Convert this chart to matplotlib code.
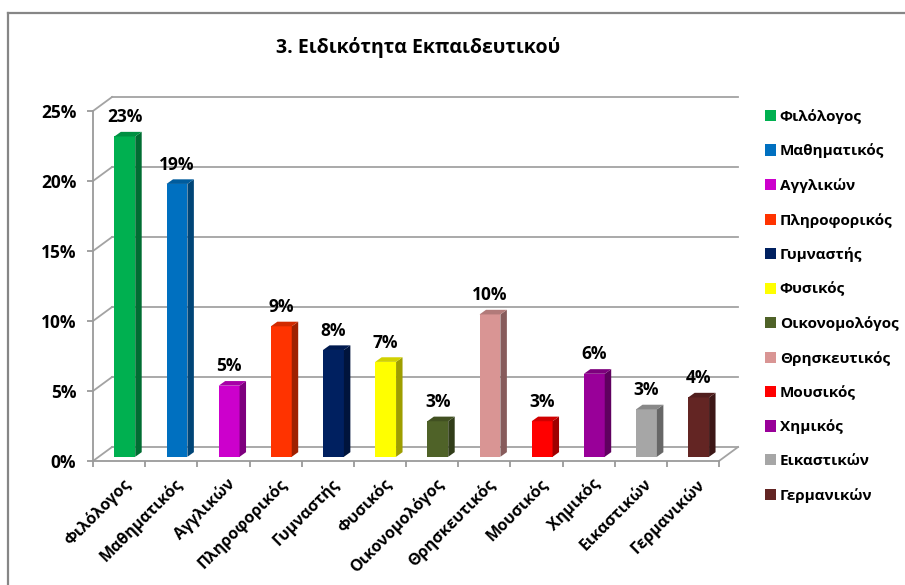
import matplotlib
matplotlib.use("Agg")
import matplotlib.pyplot as plt
import numpy as np
from matplotlib.patches import Polygon, Patch
from matplotlib.lines import Line2D
from matplotlib.colors import to_rgb
from matplotlib.transforms import ScaledTranslation

plt.rcParams['font.family'] = ['Open Sans', 'DejaVu Sans']
plt.rcParams['font.weight'] = 'bold'

# share of teachers per specialty (%)
specialties = ["Φιλόλογος", "Μαθηματικός", "Αγγλικών", "Πληροφορικός", "Γυμναστής",
               "Φυσικός", "Οικονομολόγος", "Θρησκευτικός", "Μουσικός", "Χημικός",
               "Εικαστικών", "Γερμανικών"]
shares = [22.88, 19.49, 5.08, 9.32, 7.63, 6.78, 2.54, 10.17, 2.54, 5.93, 3.39, 4.24]
colors = ["#00B050", "#0070C0", "#CC00CC", "#FF3300", "#002060", "#FFFF00",
          "#4F6228", "#D99594", "#FF0000", "#990099", "#A6A6A6", "#632523"]
yticks = [0, 5, 10, 15, 20, 25]

W, H = 905, 585
fig = plt.figure(figsize=(W / 100, H / 100), dpi=100)
fig.patch.set_facecolor("white")

# axes placed on the front plane of the 3-D box
x0, x1, y0, y1 = 93, 719, 461, 111
ax = fig.add_axes([x0 / W, (H - y0) / H, (x1 - x0) / W, (y0 - y1) / H])
n = len(specialties)
ax.set_xlim(0, n)
ax.set_ylim(0, 25)
ax.set_facecolor("none")

grid_c = "#A3A3A3"
# depth of the box (category units, percent units)
dx, dy = 0.365, 1.0
for v in yticks:
    ax.plot([dx, n + dx], [v + dy, v + dy], color=grid_c, lw=1.3, clip_on=False, zorder=1)
    ax.plot([0, dx], [v, v + dy], color=grid_c, lw=1.3, clip_on=False, zorder=1)
ax.plot([n, n + dx], [0, dy], color=grid_c, lw=1.3, clip_on=False, zorder=1)

# bars: front face from ax.bar, top and side faces as polygons
centers = np.arange(n) + 0.5
bw = 0.4
fx, fy = 0.3 * dx, 0.3 * dy
sx, sy = 0.34 * dx, 0.33 * dy


def shade(c, f):
    r, g, b = to_rgb(c)
    return (r * f, g * f, b * f)


ax.bar(centers + fx, shares, width=bw, bottom=fy, color=colors, zorder=3, clip_on=False)
for xc, v, c in zip(centers + fx, shares, colors):
    l, r, t = xc - bw / 2, xc + bw / 2, fy + v
    side = Polygon([(r, fy), (r + sx, fy + sy), (r + sx, t + sy), (r, t)],
                   closed=True, facecolor=shade(c, 0.62), edgecolor="none", zorder=3, clip_on=False)
    top = Polygon([(l, t), (r, t), (r + sx, t + sy), (l + sx, t + sy)],
                  closed=True, facecolor=shade(c, 0.82), edgecolor="none", zorder=3, clip_on=False)
    ax.add_patch(side)
    ax.add_patch(top)
    ax.annotate(f"{v:.0f}%", (xc, t + sy), xytext=(0, 7), textcoords="offset points",
                ha="center", va="baseline", fontsize=12.5, fontweight="bold", color="black")

# axes lines and ticks
for s in ["top", "right"]:
    ax.spines[s].set_visible(False)
for s in ["left", "bottom"]:
    ax.spines[s].set_color("#9A9A9A")
    ax.spines[s].set_linewidth(1.3)

ax.set_yticks(yticks)
ax.set_yticklabels([f"{v}%" for v in yticks], fontsize=12.5, fontweight="bold")
ax.tick_params(axis="y", length=4, width=1.3, color="#9A9A9A", pad=8)

ax.set_xticks(np.arange(n + 1), minor=True)
ax.tick_params(axis="x", which="minor", length=4, width=1.3, color="#9A9A9A")
ax.set_xticks(centers)
ax.set_xticklabels(specialties, rotation=45, ha="right", va="center",
                   rotation_mode="anchor", fontsize=11.5, fontweight="bold")
ax.tick_params(axis="x", which="major", length=0, pad=15)
for lab in ax.get_xticklabels():
    lab.set_transform(lab.get_transform() + ScaledTranslation(9 / 100, 0, fig.dpi_scale_trans))

fig.text(418 / W, 1 - 48 / H, "3. Ειδικότητα Εκπαιδευτικού", ha="center", va="center",
         fontsize=14, fontweight="bold")

handles = [Patch(facecolor=c, edgecolor="none") for c in colors]
fig.legend(handles, specialties, loc="upper left", bbox_to_anchor=(765 / W, 1 - 109 / H),
           frameon=False, fontsize=11, handlelength=0.75, handleheight=0.75,
           handletextpad=0.22, labelspacing=1.29, borderaxespad=0, borderpad=0)

# chart frame
frame_c = "#868686"
fig.add_artist(Line2D([8 / W, 1], [1 - 13 / H, 1 - 13 / H], color=frame_c, lw=1.6))
fig.add_artist(Line2D([8 / W, 8 / W], [1 - 13 / H, 0], color=frame_c, lw=1.6))

fig.savefig("out.png", dpi=100)
